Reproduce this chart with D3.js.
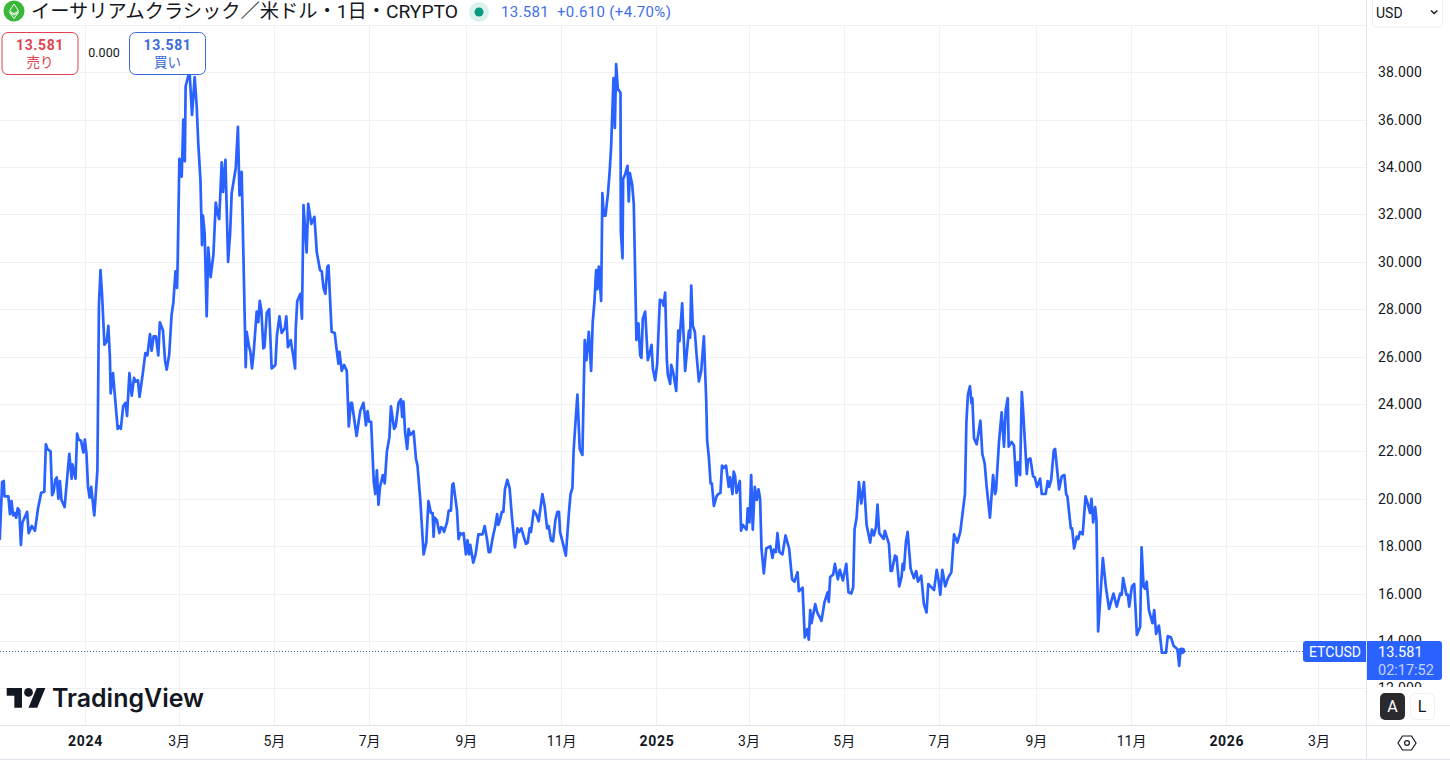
<!DOCTYPE html>
<html lang="ja">
<head>
<meta charset="utf-8">
<title>ETCUSD</title>
<script src="https://cdn.jsdelivr.net/npm/d3@7"></script>
<style>
  html, body { margin: 0; padding: 0; background: #fff; overflow: hidden; }
  svg { display: block; font-family: Roboto, "Noto Sans CJK JP", sans-serif; }
  .grid line { stroke: #f0f1f5; stroke-width: 1; }
  .axis path, .axis line { display: none; }
  .axis text { fill: #131722; font-size: 14px; font-family: Roboto, "Noto Sans CJK JP", sans-serif; }
  .border { stroke: #e0e3eb; stroke-width: 1; }
</style>
</head>
<body>
<svg id="chart" width="1450" height="767"></svg>
<script>
// days since 2024-01-01, closes in USD
const days = [
  -54.5, -53, -52, -51.5, -49, -48, -47, -46, -45, -44,
  -43, -42, -41, -40, -37, -36, -34, -32, -30, -28,
  -26, -25, -24, -22, -21, -20, -19, -18, -17, -16,
  -15, -13, -10, -8.5, -8, -6, -5, -4, -2.5, -1,
  0, 1, 2, 3, 4, 6, 8, 9, 10, 11,
  12.5, 14, 15, 16, 16.5, 18, 19, 21, 22, 23,
  24.5, 26, 27, 28.5, 30, 31.5, 32.5, 34, 35, 37,
  38.7, 40, 41.7, 42.7, 44, 45.5, 47, 48, 50, 51.3,
  52.4, 54, 55.5, 56.6, 58, 59, 59.4, 60.5, 62, 63,
  64, 64.5, 66, 67, 68.6, 70.3, 71.6, 72.6, 74, 75,
  75.6, 76.7, 78, 79, 80.5, 82.3, 83.8, 84.8, 86, 87.6,
  88.5, 90, 91.7, 93, 94, 96.6, 98, 99, 100.4, 103,
  103.6, 105, 106, 107, 108, 110, 111, 112, 113, 114.3,
  115, 116.5, 118, 119.6, 122, 123, 124.6, 126, 128, 129,
  130, 131.8, 133.5, 134.6, 135, 136, 138, 139, 140, 141,
  142, 143, 145, 147, 148.5, 150.6, 151.7, 152.8, 154, 155.3,
  156, 158, 160, 161, 162.4, 163, 164.5, 166, 167.7, 169,
  170.3, 171, 174, 176.3, 178.4, 180, 181, 182, 183.3, 185,
  186, 187, 188, 189, 190.8, 192, 193.4, 195, 196, 198,
  199, 200.9, 202.4, 203.2, 204, 205, 206.4, 207.3, 208.3, 209.4,
  210.5, 212, 213, 214.8, 216.9, 218.6, 220, 221.6, 222.7, 223.3,
  224, 225.4, 227, 228.2, 229.3, 230, 231.9, 233, 234.4, 235.3,
  236, 238.3, 239.3, 240.4, 241.5, 242.5, 244, 245, 246, 246.8,
  248.7, 250.2, 252, 253.6, 254.7, 256, 257.5, 258.6, 259.6, 261,
  262.8, 264, 264.8, 266, 267, 268, 269, 270.5, 272, 273.5,
  275.4, 277, 278, 279.5, 281, 282.5, 283.6, 284.8, 285.7, 287.4,
  289, 290.6, 293, 294.5, 296, 297, 298.5, 299.8, 301.3, 302.6,
  303.6, 304.3, 306, 308, 309.9, 311, 312.2, 313, 314, 315.4,
  316.9, 318.6, 320.1, 321.2, 322.7, 324.2, 325.2, 326.3, 327.4, 328.2,
  329.1, 330.6, 331.4, 332.3, 333.4, 335, 336.1, 337, 337.9, 338.5,
  339.4, 340.2, 341.3, 343, 343.2, 344.3, 344.7, 346, 347.5, 348.3,
  349, 350.5, 351.5, 353.2, 354.5, 355.6, 356.4, 357.3, 358.8, 360.5,
  361.6, 362.9, 363.7, 365.2, 366.5, 368.2, 369.7, 370.5, 371.6, 372.7,
  373.3, 374.8, 375.5, 376.7, 378.7, 380, 380.8, 382.5, 384.4, 386.8,
  387.6, 388.3, 389.3, 390.6, 391.7, 393.2, 394.7, 396.4, 397.9, 398.5,
  399.6, 400.7, 401.5, 402.8, 404.5, 405.6, 407, 408, 409, 410.6,
  412.3, 413.2, 414.7, 415.5, 416.4, 417.3, 419.4, 420.2, 421.3, 423.7,
  424.5, 425.6, 426.7, 427.7, 429, 430.3, 431.4, 432.4, 433.3, 434.8,
  436.3, 439, 440.3, 441.2, 442.5, 443.5, 444.8, 446.7, 448.7, 451,
  452.9, 454.4, 456.4, 457.2, 459.6, 461, 462.6, 463.6, 464.5, 465.3,
  467.7, 469, 471.7, 473.7, 475.6, 476.4, 477.3, 479.2, 480.3, 482.2,
  483.5, 485.4, 487.6, 489, 490.8, 492, 492.9, 494.2, 495.7, 497.2,
  498.9, 500.6, 502.9, 504, 505.3, 506.6, 507.6, 508.7, 511.5, 512.3,
  514.9, 516, 516.8, 518.8, 519.8, 521.5, 523, 523.7, 524.5, 525.8,
  526.9, 528.8, 530.9, 532.4, 533.5, 535.6, 537.3, 539, 540.1, 541.6,
  543.8, 545.5, 546.7, 547.8, 549.1, 551, 552.7, 554.9, 556.6, 558.7,
  560.6, 563.6, 564.5, 565.5, 566.8, 567.7, 568.3, 569.4, 571.1, 572.2,
  573.5, 574.7, 576.2, 577.5, 579.6, 581.6, 582.9, 583.5, 585.4, 587.1,
  588.6, 589.7, 591, 591.6, 593.5, 595, 596.5, 597.4, 598.9, 600,
  600.8, 603.2, 604, 605.5, 607.2, 608.3, 609.8, 611.7, 612.8, 615.3,
  616.6, 617.5, 618.8, 620.5, 621.3, 623.9, 625.6, 627.3, 628.4, 629.2,
  631.4, 632.2, 633.5, 635.2, 636.1, 637.3, 639, 640.8, 642, 643.7,
  644.6, 645.7, 647, 647.8, 648.9, 651.9, 653.8, 655.9, 658.7, 660.8,
  663, 664, 664.9, 667, 667.9, 668.8, 670.5, 672, 673.7, 675.8,
  676.7, 678, 679, 680, 681.4, 683.7, 684.8, 686, 687.8, 689.7,
  692.3, 693.5, 695.5, 697.2, 699.7, 700.8, 701.7, 702.5
];
const closes = [
  18.3, 20.7, 20.75, 20.1, 20.1, 19.35, 19.9, 19.3, 19.4, 19.2,
  19.6, 19.5, 18.05, 19, 19.45, 18.55, 18.85, 18.65, 19.6, 20.25,
  20.3, 22.3, 22.1, 22, 20.15, 20.3, 20.8, 20.9, 20, 20.75,
  19.95, 19.65, 21.9, 20.85, 21.45, 20.85, 22.75, 22.5, 22.45, 21.95,
  22.5, 21.9, 20.5, 20.05, 20.5, 19.3, 21.2, 28.2, 29.65, 28.6,
  26.5, 26.65, 27.3, 26, 24.45, 25.3, 24.5, 22.95, 23.05, 22.95,
  23.9, 24.05, 23.5, 25.3, 24.35, 25.1, 24.95, 25, 24.3, 25.25,
  26.15, 26.05, 26.95, 26.25, 26.85, 26.85, 26.05, 27.45, 27.1, 25.85,
  25.45, 26.1, 27.75, 28.25, 29.6, 28.9, 29.95, 34.35, 33.6, 36,
  34.25, 37.4, 37.8, 38.05, 36.2, 37.8, 36.55, 35, 33.45, 30.7,
  31.95, 31.2, 27.7, 30.6, 29.35, 30.3, 32.5, 32.1, 31.8, 34.2,
  32.95, 34.3, 30, 31.2, 32.9, 33.95, 35.7, 32.8, 33.8, 25.55,
  27.05, 26.45, 26.2, 25.5, 26.1, 27.9, 27.45, 28.35, 27.95, 26.35,
  26.4, 27.85, 28, 25.5, 25.65, 26.9, 27.7, 27, 27.2, 27.7,
  26.4, 26.7, 26, 25.5, 27.15, 28.35, 28.65, 27.6, 32.4, 31.4,
  30.4, 32.45, 31.6, 31.9, 30.4, 29.65, 29.6, 28.9, 28.65, 29.8,
  29.85, 27.05, 27, 26.4, 25.7, 26.2, 25.4, 25.65, 25.4, 23.05,
  24.05, 24.05, 22.65, 23.7, 24.05, 23.1, 23.7, 23.25, 23.25, 20.7,
  20.2, 21.2, 19.75, 20.5, 21, 20.65, 22, 22.6, 23.9, 22.95,
  23.05, 24.05, 24.2, 23.45, 24.1, 22.85, 22.1, 22.95, 22.7, 22.75,
  22.85, 21.7, 21.4, 19.95, 17.65, 18.15, 19.9, 19.4, 19.4, 18.4,
  19.2, 19.1, 18.55, 18.8, 18.75, 18.6, 19, 19.5, 19.5, 20.6,
  20.65, 19.5, 18.3, 18.55, 18.5, 18.55, 17.65, 18.25, 17.65, 18.05,
  17.3, 17.65, 18.5, 18.5, 18.5, 18.85, 18.3, 17.75, 17.75, 18.3,
  18.85, 19.35, 18.9, 19.15, 19.45, 19.45, 20.4, 20.8, 20.45, 19.2,
  17.95, 18.75, 18.6, 18.75, 18.4, 18.1, 18.15, 18.75, 18.6, 19.5,
  19.35, 19.05, 20.2, 19.65, 18.75, 18.85, 18.25, 18.2, 19.1, 19.45,
  19.45, 18.6, 18.15, 17.6, 19.35, 20.2, 20.45, 22.05, 23.05, 24.4,
  22.1, 21.85, 26.7, 25.85, 27.05, 25.4, 27.45, 28.3, 29.65, 28.85,
  29.8, 28.35, 32.9, 31.95, 31.95, 32.9, 33.85, 34.85, 36.55, 37.75,
  35.65, 38.35, 37.3, 37.15, 31.3, 30.15, 33.5, 33.7, 34.05, 32.55,
  33.75, 33.25, 32.45, 26.7, 27.4, 26.05, 25.95, 27.6, 27.9, 25.85,
  26.1, 26.5, 25.5, 25, 25.7, 28.4, 28.35, 28.15, 28.7, 25.85,
  25.25, 24.85, 25.65, 25.35, 24.55, 27.1, 26.65, 28.25, 25.4, 27.1,
  26.8, 29, 27.3, 27.05, 26.1, 24.95, 25.4, 26.85, 24.15, 22.45,
  21.75, 20.65, 20.65, 19.7, 20.1, 20.2, 20.25, 21.4, 21.3, 21.4,
  20.5, 20.9, 20.2, 21.15, 20.95, 20.25, 20.75, 18.65, 18.9, 18.7,
  19.6, 19, 21, 18.7, 20.5, 19.95, 20.4, 20, 17.9, 16.85,
  17.9, 18, 17.5, 17.85, 17.75, 18.55, 17.75, 17.65, 18.45, 17.9,
  16.6, 16.5, 16.9, 16.1, 16.25, 14.15, 14.5, 14.05, 15.3, 14.75,
  15.55, 15.2, 14.85, 15.65, 16.05, 15.65, 16.7, 16.8, 17.25, 16.6,
  17, 16.55, 17.25, 16.05, 16, 16.25, 18.7, 19.2, 20.7, 19.8,
  20.7, 18.9, 18.15, 18.7, 18.45, 18.8, 19.75, 18.55, 18.3, 18.65,
  18.1, 16.95, 16.95, 17.6, 17.55, 16.3, 16.7, 17.25, 17, 18.2,
  18.6, 17.05, 16.65, 16.95, 16.5, 16.75, 15.55, 15.2, 16.4, 16.3,
  16.15, 17, 16.55, 15.95, 17, 16.3, 16.65, 16.9, 18.5, 18.15,
  18.6, 20.2, 23.2, 24.4, 24.75, 24.05, 24.25, 22.55, 22.3, 22.75,
  23.3, 21.9, 21.5, 20.5, 19.2, 21, 20.2, 20.35, 22.4, 23.65,
  22.2, 23.75, 24.25, 22.2, 22.4, 22.25, 20.55, 21.55, 21, 24.5,
  23.75, 21.05, 21.65, 21.7, 20.95, 20.9, 20.5, 20.85, 20.2, 20.2,
  20.75, 20.5, 20.8, 22.05, 22.1, 20.4, 20.95, 21, 20.2, 20.1,
  18.75, 18.75, 17.9, 18.4, 18.3, 18.6, 18.5, 20.1, 19.85, 19.4,
  20, 19, 19.65, 19.1, 14.4, 17.5, 16.3, 15.35, 16, 15.45,
  16, 15.95, 16.65, 15.95, 15.95, 15.45, 16.3, 16.4, 14.25, 14.6,
  17.95, 16.3, 16.2, 16.5, 15.3, 14.75, 15.3, 14.3, 14.65, 13.5,
  13.5, 14.2, 14.15, 13.8, 13.65, 12.95, 13.65, 13.581
];
const priceTicks = [14, 16, 18, 20, 22, 24, 26, 28, 30, 32, 34, 36, 38, 12];
const gridPrices = [12, 14, 16, 18, 20, 22, 24, 26, 28, 30, 32, 34, 36, 38, 40];
const timeTickDates = ['2024-01-01', '2024-03-01', '2024-05-01', '2024-07-01', '2024-09-01', '2024-11-01',
  '2025-01-01', '2025-03-01', '2025-05-01', '2025-07-01', '2025-09-01', '2025-11-01', '2026-01-01', '2026-03-01'];
const timeTickLabels = ['2024', '3月', '5月', '7月', '9月', '11月', '2025', '3月', '5月', '7月', '9月', '11月', '2026', '3月'];

const BLUE = '#2962ff';
const lastPrice = closes[closes.length - 1];
const DAY_MS = 864e5;
const dayZero = Date.UTC(2024, 0, 1);
const toDate = (d) => new Date(dayZero + d * DAY_MS);

const svg = d3.select('#chart');
const x = d3.scaleUtc()
  .domain([toDate(0), toDate(790)])
  .range([84.9, 84.9 + 790 * 1.5615]);
const y = d3.scaleLinear().domain([12, 38]).range([688.3, 72.3]);

// ---- grid ----
const tickDates = timeTickDates.map((s) => new Date(s + 'T00:00:00Z'));
const grid = svg.append('g').attr('class', 'grid');
grid.selectAll('line.h').data(gridPrices).join('line')
  .attr('class', 'h').attr('x1', 0).attr('x2', 1366)
  .attr('y1', (d) => Math.round(y(d)) + 0.5).attr('y2', (d) => Math.round(y(d)) + 0.5);
grid.selectAll('line.v').data(tickDates).join('line')
  .attr('class', 'v').attr('y1', 25).attr('y2', 725)
  .attr('x1', (d) => Math.round(x(d)) + 0.5).attr('x2', (d) => Math.round(x(d)) + 0.5);

// ---- axes ----
svg.append('g').attr('class', 'axis').attr('transform', 'translate(1366,0)')
  .call(d3.axisRight(y).tickValues(priceTicks).tickSize(0).tickPadding(12).tickFormat(d3.format('.3f')))
  .selectAll('text').attr('letter-spacing', 0.15);

const bottom = svg.append('g').attr('class', 'axis').attr('transform', 'translate(0,725)')
  .call(d3.axisBottom(x).tickValues(tickDates).tickSize(0).tickPadding(11)
    .tickFormat((d, i) => timeTickLabels[i]));
bottom.selectAll('text')
  .style('font-weight', (d, i) => (/^\d{4}$/.test(timeTickLabels[i]) ? 700 : 400))
  .attr('letter-spacing', (d, i) => (/^\d{4}$/.test(timeTickLabels[i]) ? 0.7 : 0));

// mask under A / L buttons
svg.append('rect').attr('x', 1367).attr('y', 687).attr('width', 83).attr('height', 38).attr('fill', '#fff');

// ---- price line ----
const line = d3.line().x((d, i) => x(toDate(days[i]))).y((d) => y(d));
svg.append('line')
  .attr('x1', 0).attr('x2', 1304)
  .attr('y1', Math.round(y(lastPrice)) + 0.5).attr('y2', Math.round(y(lastPrice)) + 0.5)
  .attr('stroke', '#3d5a9e').attr('stroke-width', 1).attr('stroke-dasharray', '1 2');
svg.append('path')
  .attr('d', line(closes))
  .attr('fill', 'none').attr('stroke', BLUE).attr('stroke-width', 2.7)
  .attr('stroke-linejoin', 'round').attr('stroke-linecap', 'round');
svg.append('circle')
  .attr('cx', x(toDate(days[days.length - 1]))).attr('cy', y(lastPrice))
  .attr('r', 3.4).attr('fill', BLUE);

// ---- borders ----
svg.append('line').attr('class', 'border').attr('x1', 0).attr('x2', 1450).attr('y1', 725.5).attr('y2', 725.5);
svg.append('line').attr('class', 'border').attr('x1', 0).attr('x2', 1450).attr('y1', 759.5).attr('y2', 759.5);
svg.append('line').attr('class', 'border').attr('x1', 1366.5).attr('x2', 1366.5).attr('y1', 0).attr('y2', 759);

// ---- header ----
svg.append('rect').attr('x', 0).attr('y', 0).attr('width', 1366).attr('height', 25).attr('fill', '#fff').attr('opacity', 0.9);
const icon = svg.append('g').attr('transform', 'translate(14,11)');
icon.append('circle').attr('r', 10.5).attr('fill', '#3ab83a');
icon.append('path').attr('d', 'M0 -7L4.5 0L0 2.6L-4.5 0ZM-4.5 1.4L0 4L4.5 1.4L0 7.5Z')
  .attr('fill', 'none').attr('stroke', '#fff').attr('stroke-width', 1);

svg.append('text').attr('x', 31).attr('y', 18)
  .attr('font-size', 19).attr('fill', '#131722')
  .attr('textLength', 427).attr('lengthAdjust', 'spacingAndGlyphs')
  .style('font-family', 'Roboto, "Noto Sans CJK JP", sans-serif')
  .text('イーサリアムクラシック／米ドル・1日・CRYPTO');

svg.append('circle').attr('cx', 479).attr('cy', 12).attr('r', 10).attr('fill', '#dcf1ee');
svg.append('circle').attr('cx', 479).attr('cy', 12).attr('r', 4.5).attr('fill', '#089981');
svg.append('text').attr('x', 501).attr('y', 17).attr('font-size', 15).attr('letter-spacing', 0.3).attr('fill', '#4170e8')
  .text('13.581');
svg.append('text').attr('x', 557).attr('y', 17).attr('font-size', 15).attr('letter-spacing', 0.35).attr('fill', '#4170e8')
  .text('+0.610 (+4.70%)');

// ---- buy / sell ----
function tradeBox(bx, color, label) {
  const g = svg.append('g');
  g.append('rect').attr('x', bx + 0.5).attr('y', 32.5).attr('width', 76).attr('height', 42).attr('rx', 6)
    .attr('fill', '#fff').attr('stroke', color).attr('stroke-width', 1);
  g.append('text').attr('x', bx + 38.5).attr('y', 50).attr('text-anchor', 'middle')
    .attr('font-size', 14).attr('font-weight', 700).attr('letter-spacing', 0.6).attr('fill', color).text('13.581');
  g.append('text').attr('x', bx + 38.5).attr('y', 67).attr('text-anchor', 'middle')
    .attr('font-size', 13.5).attr('fill', color).style('font-family', '"Noto Sans CJK JP", sans-serif').text(label);
}
tradeBox(1.5, '#e0434f', '売り');
tradeBox(129, '#3a6bdc', '買い');
svg.append('text').attr('x', 104).attr('y', 57).attr('text-anchor', 'middle')
  .attr('font-size', 12.5).attr('fill', '#131722').text('0.000');

// ---- currency box ----
svg.append('rect').attr('x', 1372.5).attr('y', -6).attr('width', 70).attr('height', 33).attr('rx', 4)
  .attr('fill', '#fff').attr('stroke', '#eceef2');
svg.append('text').attr('x', 1376).attr('y', 18).attr('font-size', 14).attr('fill', '#131722').text('USD');
svg.append('path').attr('d', 'M1431 10.5l3.2 3 3.2-3').attr('fill', 'none').attr('stroke', '#131722').attr('stroke-width', 1.4);

// ---- last price labels ----
svg.append('path').attr('d', 'M1366 641H1306a3 3 0 0 0 -3 3V659a3 3 0 0 0 3 3H1366Z').attr('fill', BLUE);
svg.append('text').attr('x', 1335).attr('y', 657).attr('text-anchor', 'middle')
  .attr('font-size', 14).attr('fill', '#fff').text('ETCUSD');
svg.append('path').attr('d', 'M1367 641H1439a3 3 0 0 1 3 3V677a3 3 0 0 1 -3 3H1367Z').attr('fill', BLUE);
svg.append('text').attr('x', 1378).attr('y', 657).attr('font-size', 14.5).attr('fill', '#fff').text('13.581');
svg.append('text').attr('x', 1378).attr('y', 675).attr('font-size', 14.5).attr('fill', '#c3d3ff').text('02:17:52');

// ---- A / L ----
svg.append('rect').attr('x', 1380).attr('y', 693).attr('width', 25).attr('height', 27).attr('rx', 5).attr('fill', '#2a2a2e');
svg.append('text').attr('x', 1392.5).attr('y', 712).attr('text-anchor', 'middle').attr('font-size', 16).attr('fill', '#fff').text('A');
svg.append('rect').attr('x', 1410.5).attr('y', 693.5).attr('width', 24).attr('height', 26).attr('rx', 5).attr('fill', '#fff').attr('stroke', '#f0f1f5');
svg.append('text').attr('x', 1422).attr('y', 712).attr('text-anchor', 'middle').attr('font-size', 16).attr('fill', '#131722').text('L');

// ---- settings hexagon ----
const gear = svg.append('g').attr('transform', 'translate(1407,743)').attr('fill', 'none').attr('stroke', '#131722').attr('stroke-width', 1.2);
gear.append('path').attr('d', 'M-9 0L-4.5 -7H4.5L9 0L4.5 7H-4.5Z');
gear.append('circle').attr('r', 2.4);

// ---- logo ----
const logo = svg.append('g').attr('transform', 'translate(6.7,683.7) scale(1.09)').attr('fill', '#131722');
logo.append('path').attr('d', 'M14 22H7V11H0V4h14v18zM28 22h-8l7.5-18h8L28 22z');
logo.append('circle').attr('cx', 20).attr('cy', 8).attr('r', 4);
svg.append('text').attr('x', 52).attr('y', 707).attr('font-size', 25).attr('font-weight', 600)
  .attr('fill', '#131722').attr('textLength', 152).attr('lengthAdjust', 'spacingAndGlyphs')
  .style('font-family', 'Inter, sans-serif').text('TradingView');
</script>
</body>
</html>
